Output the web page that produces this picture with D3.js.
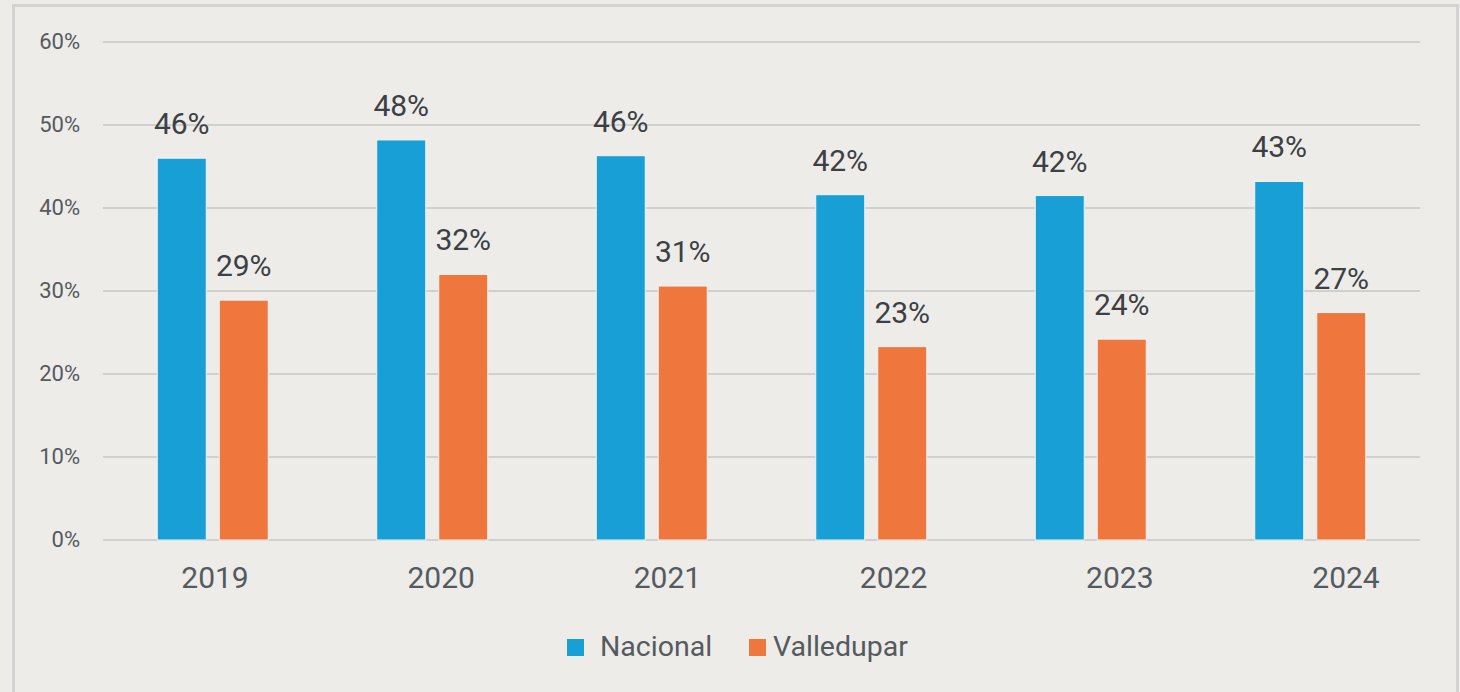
<!DOCTYPE html>
<html>
<head>
<meta charset="utf-8">
<script src="https://cdn.jsdelivr.net/npm/d3@7"></script>
<style>
  body { margin: 0; background: #edece9; }
  svg { display: block; font-family: 'Roboto', 'Liberation Sans', sans-serif; }
</style>
</head>
<body>
<script>
// Data
const years = ['2019', '2020', '2021', '2022', '2023', '2024'];
const nacional = [46, 48.2, 46.3, 41.6, 41.5, 43.2];
const valledupar = [28.9, 32, 30.6, 23.3, 24.2, 27.4];
const seriesNames = ['Nacional', 'Valledupar'];
const colors = ['#179fd6', '#ef773e'];
const yTicks = [0, 10, 20, 30, 40, 50, 60];

const W = 1460, H = 692;
const margin = { top: 42, right: 40, bottom: 152, left: 103 };
const width = W - margin.left - margin.right;
const height = H - margin.top - margin.bottom;

const svg = d3.select('body').append('svg').attr('width', W).attr('height', H);

// outer frame
svg.append('rect').attr('x', 13.5).attr('y', 5.5).attr('width', 1444).attr('height', 700)
    .attr('fill', '#edece9').attr('stroke', '#d3d3d1').attr('stroke-width', 3);

const g = svg.append('g').attr('transform', `translate(${margin.left},${margin.top})`);

const x = d3.scaleBand().domain(years).range([0, width]);
// year labels sit on a slightly wider spacing than the bar groups
const xLabel = d3.scalePoint().domain(years).range([112, 1243]);
const y = d3.scaleLinear().domain([0, 60]).range([height, 0]);
const barW = 49, gap = 13;

// gridlines
g.selectAll('line.grid').data(yTicks).join('line')
    .attr('class', 'grid')
    .attr('x1', 0).attr('x2', width)
    .attr('y1', d => y(d)).attr('y2', d => y(d))
    .attr('stroke', '#d0d0cf').attr('stroke-width', 2);

// y labels
g.selectAll('text.ytick').data(yTicks).join('text')
    .attr('class', 'ytick')
    .attr('x', -23).attr('y', d => y(d) + 7)
    .attr('text-anchor', 'end')
    .attr('font-size', 22).attr('fill', '#555a5e')
    .text(d => d + '%');

// x labels
g.selectAll('text.xtick').data(years).join('text')
    .attr('class', 'xtick')
    .attr('x', d => xLabel(d))
    .attr('y', height + 48)
    .attr('text-anchor', 'middle')
    .attr('font-size', 30).attr('fill', '#555a5e')
    .text(d => d);

const series = [nacional, valledupar];
series.forEach((vals, s) => {
    const off = s === 0 ? -(barW + gap / 2) : gap / 2;
    const grp = g.append('g');
    grp.selectAll('rect').data(years).join('rect')
        .attr('x', d => x(d) + x.bandwidth() / 2 + off)
        .attr('y', (d, i) => y(vals[i]))
        .attr('width', barW)
        .attr('height', (d, i) => height - y(vals[i]))
        .attr('fill', colors[s])
        .attr('stroke', '#f4f4f2').attr('stroke-width', 1);
    grp.selectAll('text').data(years).join('text')
        .attr('x', d => x(d) + x.bandwidth() / 2 + off + barW / 2)
        .attr('y', (d, i) => y(vals[i]) - 24)
        .attr('text-anchor', 'middle')
        .attr('font-size', 30).attr('fill', '#3c4044')
        .text((d, i) => Math.round(vals[i]) + '%');
});

// legend
const legend = svg.append('g');
const legX = [567, 749];
seriesNames.forEach((name, i) => {
    legend.append('rect').attr('x', legX[i]).attr('y', 639).attr('width', 17).attr('height', 17).attr('fill', colors[i]);
    legend.append('text').attr('x', legX[i] + (i === 0 ? 33 : 24)).attr('y', 656)
        .attr('font-size', 28.5).attr('fill', '#555a5e').text(name);
});
</script>
</body>
</html>
